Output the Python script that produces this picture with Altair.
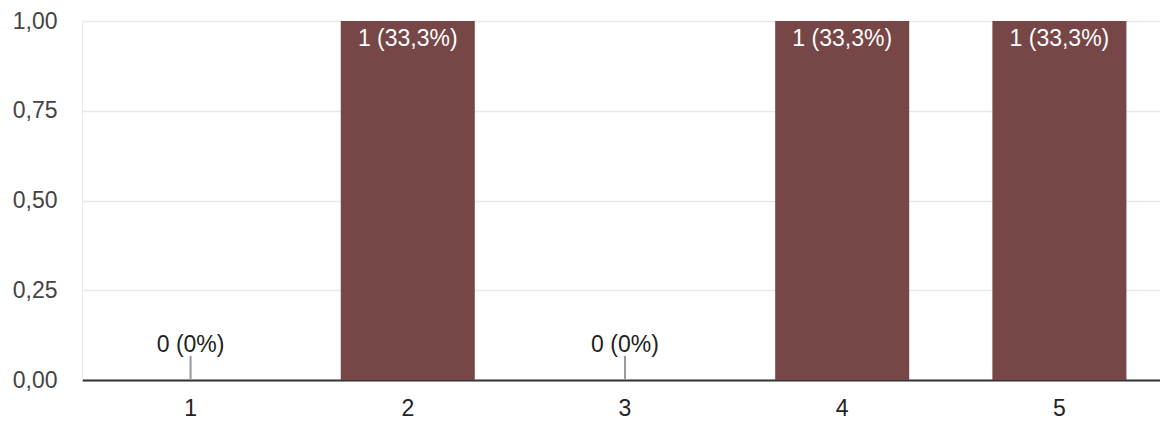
import altair as alt
import pandas as pd

categories = ["1", "2", "3", "4", "5"]
counts = [0, 1, 0, 1, 1]
total = sum(counts)

def pct(c):
    p = round(c / total * 100, 1)
    s = ("%g" % p).replace(".", ",")
    return f"{c} ({s}%)"

df = pd.DataFrame({
    "cat": categories,
    "count": counts,
    "label": [pct(c) for c in counts],
})

FONT = "Liberation Sans"
FS = 23
H = 359
W = 1078

x_enc = alt.X("cat:N", sort=categories,
              scale=alt.Scale(paddingInner=0.383, paddingOuter=0.173, align=0.553),
              axis=alt.Axis(title=None, labelAngle=0, ticks=False, domainColor="#333333",
                            domainWidth=2, labelFontSize=FS, labelColor="#222222",
                            labelFont=FONT, labelPadding=17, grid=False))

base = alt.Chart(df)

bars = base.mark_bar(color="#774646").encode(
    x=x_enc,
    y=alt.Y("count:Q", scale=alt.Scale(domain=[0, 1], nice=False),
            axis=alt.Axis(title=None, values=[0, 0.25, 0.5, 0.75, 1],
                          labelExpr="replace(format(datum.value, '.2f'), '.', ',')",
                          ticks=False, domain=True, domainColor="#e8e8e8", domainWidth=1,
                          gridColor="#e8e8e8", gridWidth=1.5, labelFontSize=FS,
                          labelColor="#444444", labelFont=FONT, labelPadding=25)),
)

in_text = base.transform_filter("datum.count > 0").mark_text(
    color="white", baseline="top", dy=7, fontSize=FS, font=FONT
).encode(x=alt.X("cat:N", sort=categories), y="count:Q", text="label:N")

zero_tick = base.transform_filter("datum.count == 0").mark_rule(
    color="#999999", strokeWidth=2
).encode(x=alt.X("cat:N", sort=categories), y="count:Q", y2=alt.value(H - 24))

zero_text = base.transform_filter("datum.count == 0").mark_text(
    color="#222222", baseline="alphabetic", dy=-28, fontSize=FS, font=FONT
).encode(x=alt.X("cat:N", sort=categories), y="count:Q", text="label:N")

chart = alt.layer(bars, zero_tick, in_text, zero_text).properties(
    width=W, height=H,
    autosize=alt.AutoSizeParams(type="none"),
    padding={"left": 74, "top": 13, "right": 0, "bottom": 40},
).configure_view(stroke=None)

chart.save("out.html", embed_options={"renderer": "svg", "actions": False})
